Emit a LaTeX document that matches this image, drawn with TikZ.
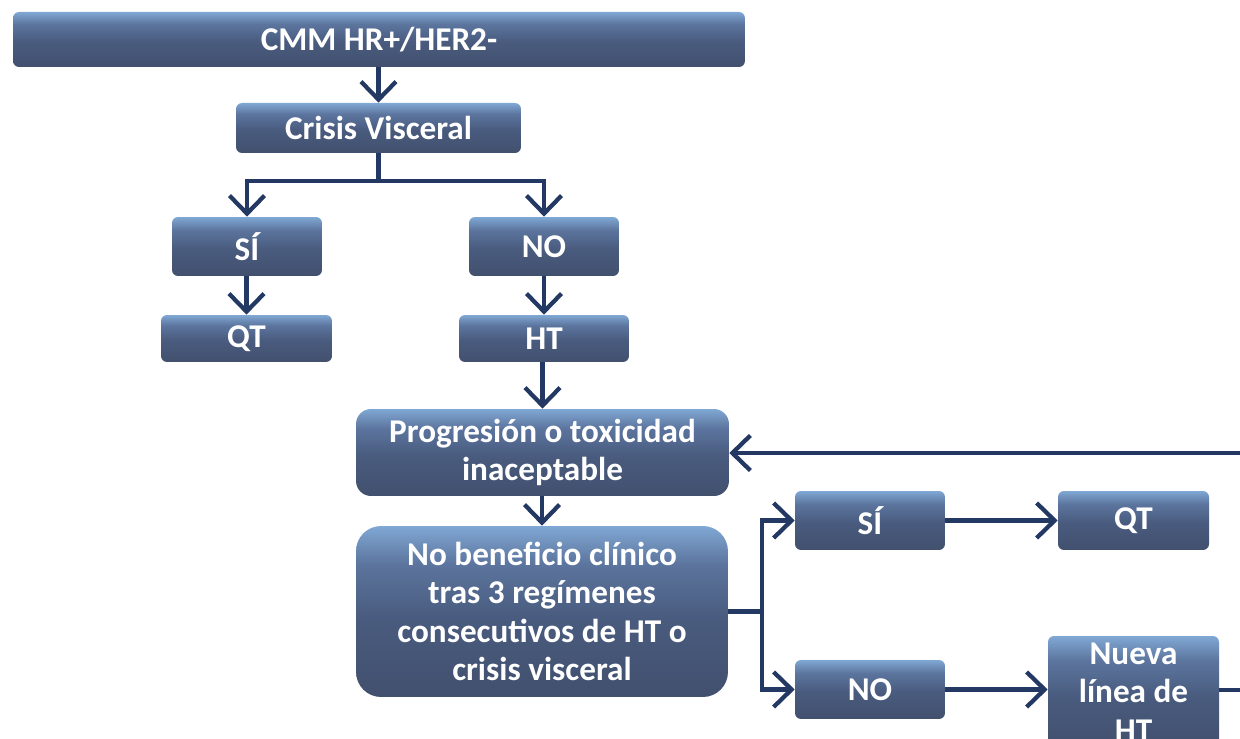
\documentclass[tikz,border=0pt]{standalone}
\usepackage{fontspec}
\setmainfont{Carlito}
\usetikzlibrary{arrows.meta}
\definecolor{gtop}{RGB}{128,168,212}
\definecolor{gmid}{RGB}{92,117,158}
\definecolor{gbtwo}{RGB}{73,91,126}
\definecolor{gbot}{RGB}{66,80,110}
\definecolor{linec}{RGB}{35,56,98}
\pgfdeclareverticalshading{boxshade}{100bp}{color(0bp)=(gbot); color(25bp)=(gbot); color(48bp)=(gbtwo); color(64bp)=(gmid); color(75bp)=(gtop); color(100bp)=(gtop)}
\tikzset{
  box/.style={rounded corners=0.12cm, shading=boxshade,
    draw=none, text=white, align=center, inner sep=0pt,
    font=\fontsize{18.9}{21.8}\selectfont\bfseries},
  conn/.style={draw=linec, line width=0.085cm},
  arr/.style={conn, -{Straight Barb[length=0.36cm, width=0.7cm, line width=0.085cm]}}
}
\begin{document}
\begin{tikzpicture}[x=0.02cm, y=-0.02cm]
\clip (0,0) rectangle (1240,739);
\fill[white] (0,0) rectangle (1240,739);
\node[box, minimum width=14.64cm, minimum height=1.1cm] (CMM) at (379,39.5) {CMM HR+/HER2-};
\node[box, minimum width=5.7cm, minimum height=1.0cm] (Crisis) at (378.5,128) {Crisis Visceral};
\node[box, minimum width=3.0cm, minimum height=1.18cm] (SI1) at (247,246.5) {SÍ};
\node[box, minimum width=3.0cm, minimum height=1.18cm] (NO1) at (544,246.5) {NO};
\node[box, minimum width=3.42cm, minimum height=0.94cm] (QT1) at (246.5,338.5) {QT};
\node[box, minimum width=3.4cm, minimum height=0.94cm] (HT1) at (544,338.5) {HT};
\node[box, rounded corners=0.3cm, minimum width=7.46cm, minimum height=1.74cm] (Prog) at (542.5,452.5) {Progresión o toxicidad\\inaceptable};
\node[box, rounded corners=0.5cm, minimum width=7.44cm, minimum height=3.42cm] (NoBen) at (542,611.5) {No beneficio clínico\\tras 3 regímenes\\consecutivos de HT o\\crisis visceral};
\node[box, minimum width=3.0cm, minimum height=1.18cm] (SI2) at (870,520.5) {SÍ};
\node[box, minimum width=3.02cm, minimum height=1.18cm] (QT2) at (1133.5,520.5) {QT};
\node[box, minimum width=3.0cm, minimum height=1.18cm] (NO2) at (870,689.5) {NO};
\node[box, minimum width=3.42cm, minimum height=2.24cm] (Nueva) at (1133.5,692) {Nueva\\línea de\\HT};
% connectors
\draw[arr] (CMM.south -| Crisis.north) -- (Crisis.north);
\coordinate (b1) at (378.5,181);
\draw[conn] (Crisis.south) -- (b1);
\draw[arr] (b1) -| (SI1.north);
\draw[arr] (b1) -| (NO1.north);
\draw[arr] (SI1.south -| QT1.north) -- (QT1.north);
\draw[arr] (NO1.south) -- (HT1.north);
\draw[arr] (HT1.south -| Prog.north) -- (Prog.north);
\draw[arr] (Prog.south -| NoBen.north) -- (NoBen.north);
\coordinate (b2) at (762,611.5);
\draw[conn] (NoBen.east) -- (b2);
\draw[arr] (b2) |- (SI2.west);
\draw[arr] (b2) |- (NO2.west);
\draw[arr] (SI2.east) -- (QT2.west);
\draw[arr] (NO2.east) -- (NO2.east -| Nueva.west);
\coordinate (r1) at (1260,453);
\coordinate (r2) at (1260,690);
\draw[arr] (r1) -- (r1 -| Prog.east);
\draw[conn] (r2 -| Nueva.east) -- (r2);
\end{tikzpicture}
\end{document}
